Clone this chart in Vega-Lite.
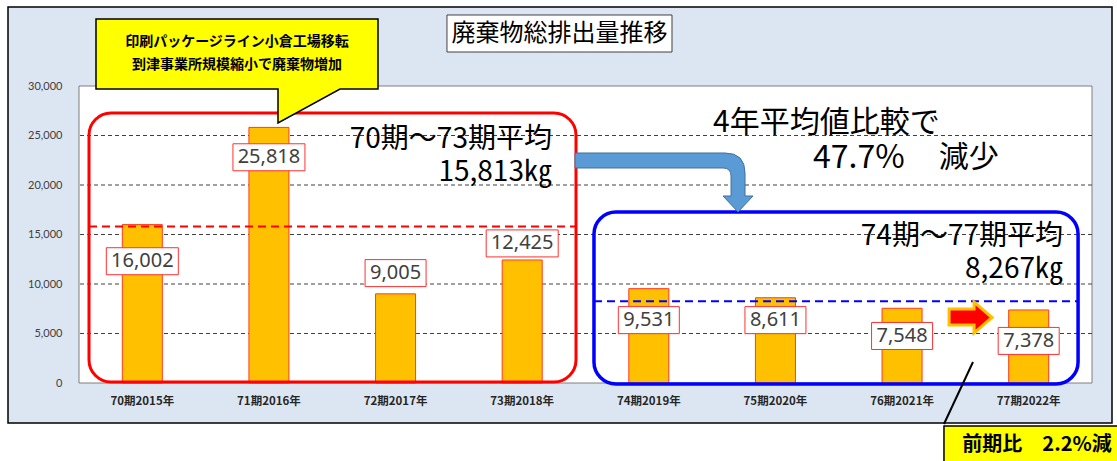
{
  "$schema": "https://vega.github.io/schema/vega-lite/v6.json",
  "width": 1013,
  "height": 297,
  "autosize": {"type": "none"},
  "padding": {"left": 79, "top": 86, "right": 25, "bottom": 78},
  "background": "white",
  "config": {"view": {"stroke": null}, "font": "Noto Sans CJK JP"},
  "data": {"values": [{}]},
  "resolve": {"scale": {"x": "independent", "y": "independent"}, "axis": {"x": "independent", "y": "independent"}},
  "layer": [
    {
      "layer": [
        {
          "mark": {"type": "rect", "fill": "#DCE6F2", "stroke": "#000000", "strokeWidth": 1.5},
          "encoding": {
            "x": {"datum": -0.5607, "type": "quantitative", "scale": {"domain": [0, 8], "nice": false, "zero": false}, "axis": null},
            "x2": {"datum": 8.158},
            "y": {"datum": 37980, "type": "quantitative", "scale": {"domain": [0, 30000], "nice": false, "zero": false}, "axis": null},
            "y2": {"datum": -4040}
          }
        },
        {
          "mark": {"type": "rect", "fill": "#FFFFFF", "stroke": "#7F7F7F", "strokeWidth": 1},
          "encoding": {
            "x": {"datum": 0, "type": "quantitative", "scale": {"domain": [0, 8], "nice": false, "zero": false}, "axis": null},
            "x2": {"datum": 8},
            "y": {"datum": 30000, "type": "quantitative", "scale": {"domain": [0, 30000], "nice": false, "zero": false}, "axis": null},
            "y2": {"datum": 0}
          }
        },
        {
          "data": {"values": [{"g": 5000}, {"g": 10000}, {"g": 15000}, {"g": 20000}, {"g": 25000}]},
          "mark": {"type": "rule", "stroke": "#404040", "strokeDash": [4, 3], "strokeWidth": 1},
          "encoding": {
            "y": {"field": "g", "type": "quantitative", "scale": {"domain": [0, 30000], "nice": false, "zero": false}, "axis": null}
          }
        }
      ]
    },
    {
      "data": {"values": [
        {"period": "70期2015年", "amount": 16002, "label_y": 12300},
        {"period": "71期2016年", "amount": 25818, "label_y": 22800},
        {"period": "72期2017年", "amount": 9005, "label_y": 11100},
        {"period": "73期2018年", "amount": 12425, "label_y": 14100},
        {"period": "74期2019年", "amount": 9531, "label_y": 6350},
        {"period": "75期2020年", "amount": 8611, "label_y": 6350},
        {"period": "76期2021年", "amount": 7548, "label_y": 4750},
        {"period": "77期2022年", "amount": 7378, "label_y": 4250}
      ]},
      "encoding": {
        "x": {
          "field": "period", "type": "nominal", "sort": null,
          "scale": {"paddingInner": 0.684, "paddingOuter": 0.342},
          "axis": {"title": null, "labelAngle": 0, "ticks": false, "domain": false, "labelPadding": 12, "labelFont": "Noto Sans CJK JP", "labelFontWeight": "bold", "labelFontSize": 11.5, "labelColor": "#262626", "zindex": 1}
        }
      },
      "layer": [
        {
          "mark": {"type": "bar", "color": "#FFC000", "stroke": "#FF3B1F", "strokeWidth": 1},
          "encoding": {
            "y": {
              "field": "amount", "type": "quantitative",
              "scale": {"domain": [0, 30000], "nice": false, "zero": false},
              "axis": {"title": null, "values": [0, 5000, 10000, 15000, 20000, 25000, 30000], "labelExpr": "format(datum.value, ',')", "grid": false, "ticks": false, "domain": false, "labelPadding": 17, "labelFont": "Lato", "labelFontSize": 11, "labelColor": "#404040", "zindex": 1}
            }
          }
        },
        {
          "transform": [{"filter": "datum.amount >= 10000"}],
          "mark": {"type": "point", "shape": "M-1,-0.375L1,-0.375L1,0.375L-1,0.375Z", "size": 5184, "filled": true, "fill": "#FFFFFF", "stroke": "#FF3030", "strokeWidth": 1, "opacity": 1},
          "encoding": {
            "y": {"field": "label_y", "type": "quantitative",
              "axis": {"title": null, "values": [0, 5000, 10000, 15000, 20000, 25000, 30000], "labelExpr": "format(datum.value, ',')", "grid": false, "ticks": false, "domain": false, "labelPadding": 17, "labelFont": "Lato", "labelFontSize": 11, "labelColor": "#404040", "zindex": 1}}
          }
        },
        {
          "transform": [{"filter": "datum.amount < 10000"}],
          "mark": {"type": "point", "shape": "M-1,-0.443L1,-0.443L1,0.443L-1,0.443Z", "size": 3721, "filled": true, "fill": "#FFFFFF", "stroke": "#FF3030", "strokeWidth": 1, "opacity": 1},
          "encoding": {
            "y": {"field": "label_y", "type": "quantitative",
              "axis": {"title": null, "values": [0, 5000, 10000, 15000, 20000, 25000, 30000], "labelExpr": "format(datum.value, ',')", "grid": false, "ticks": false, "domain": false, "labelPadding": 17, "labelFont": "Lato", "labelFontSize": 11, "labelColor": "#404040", "zindex": 1}}
          }
        },
        {
          "mark": {"type": "text", "font": "Noto Sans", "fontSize": 20, "color": "#404040", "baseline": "middle"},
          "encoding": {
            "y": {"field": "label_y", "type": "quantitative",
              "axis": {"title": null, "values": [0, 5000, 10000, 15000, 20000, 25000, 30000], "labelExpr": "format(datum.value, ',')", "grid": false, "ticks": false, "domain": false, "labelPadding": 17, "labelFont": "Lato", "labelFontSize": 11, "labelColor": "#404040", "zindex": 1}},
            "text": {"field": "amount", "type": "quantitative", "format": ","}
          }
        }
      ]
    },
    {
      "layer": [
        {
          "mark": {"type": "rect", "filled": false, "color": "#FF0000", "strokeWidth": 3, "cornerRadius": 22},
          "encoding": {
            "x": {"datum": 0.079, "type": "quantitative", "scale": {"domain": [0, 8], "nice": false, "zero": false}, "axis": null},
            "x2": {"datum": 3.925},
            "y": {"datum": 27273, "type": "quantitative", "scale": {"domain": [0, 30000], "nice": false, "zero": false}, "axis": null},
            "y2": {"datum": 101}
          }
        },
        {
          "mark": {"type": "rect", "filled": false, "color": "#0000FF", "strokeWidth": 3.5, "cornerRadius": 22},
          "encoding": {
            "x": {"datum": 4.067, "type": "quantitative", "scale": {"domain": [0, 8], "nice": false, "zero": false}, "axis": null},
            "x2": {"datum": 7.89},
            "y": {"datum": 17273, "type": "quantitative", "scale": {"domain": [0, 30000], "nice": false, "zero": false}, "axis": null},
            "y2": {"datum": -101}
          }
        },
        {
          "mark": {"type": "rule", "color": "#FF0000", "strokeWidth": 2, "strokeDash": [8, 5]},
          "encoding": {
            "x": {"datum": 0.079, "type": "quantitative", "scale": {"domain": [0, 8], "nice": false, "zero": false}, "axis": null},
            "x2": {"datum": 3.925},
            "y": {"datum": 15813, "type": "quantitative", "scale": {"domain": [0, 30000], "nice": false, "zero": false}, "axis": null}
          }
        },
        {
          "mark": {"type": "rule", "color": "#0000FF", "strokeWidth": 2, "strokeDash": [8, 5]},
          "encoding": {
            "x": {"datum": 4.067, "type": "quantitative", "scale": {"domain": [0, 8], "nice": false, "zero": false}, "axis": null},
            "x2": {"datum": 7.89},
            "y": {"datum": 8267, "type": "quantitative", "scale": {"domain": [0, 30000], "nice": false, "zero": false}, "axis": null}
          }
        },
        {
          "mark": {"type": "text", "align": "right", "baseline": "middle", "font": "Noto Sans CJK JP", "fontSize": 28, "color": "#000000", "text": "70期～73期平均"},
          "encoding": {
            "x": {"datum": 3.735, "type": "quantitative", "scale": {"domain": [0, 8], "nice": false, "zero": false}, "axis": null},
            "y": {"datum": 24545, "type": "quantitative", "scale": {"domain": [0, 30000], "nice": false, "zero": false}, "axis": null}
          }
        },
        {
          "mark": {"type": "text", "align": "right", "baseline": "middle", "font": "Noto Sans CJK JP", "fontSize": 28, "color": "#000000", "text": "15,813㎏"},
          "encoding": {
            "x": {"datum": 3.735, "type": "quantitative", "scale": {"domain": [0, 8], "nice": false, "zero": false}, "axis": null},
            "y": {"datum": 21212, "type": "quantitative", "scale": {"domain": [0, 30000], "nice": false, "zero": false}, "axis": null}
          }
        },
        {
          "mark": {"type": "text", "align": "right", "baseline": "middle", "font": "Noto Sans CJK JP", "fontSize": 28, "color": "#000000", "text": "74期～77期平均"},
          "encoding": {
            "x": {"datum": 7.771, "type": "quantitative", "scale": {"domain": [0, 8], "nice": false, "zero": false}, "axis": null},
            "y": {"datum": 14747, "type": "quantitative", "scale": {"domain": [0, 30000], "nice": false, "zero": false}, "axis": null}
          }
        },
        {
          "mark": {"type": "text", "align": "right", "baseline": "middle", "font": "Noto Sans CJK JP", "fontSize": 28, "color": "#000000", "text": "8,267㎏"},
          "encoding": {
            "x": {"datum": 7.771, "type": "quantitative", "scale": {"domain": [0, 8], "nice": false, "zero": false}, "axis": null},
            "y": {"datum": 11414, "type": "quantitative", "scale": {"domain": [0, 30000], "nice": false, "zero": false}, "axis": null}
          }
        },
        {
          "mark": {"type": "text", "align": "left", "baseline": "middle", "font": "Noto Sans CJK JP", "fontSize": 30, "color": "#000000", "text": "4年平均値比較で"},
          "encoding": {
            "x": {"datum": 5.007, "type": "quantitative", "scale": {"domain": [0, 8], "nice": false, "zero": false}, "axis": null},
            "y": {"datum": 26263, "type": "quantitative", "scale": {"domain": [0, 30000], "nice": false, "zero": false}, "axis": null}
          }
        },
        {
          "mark": {"type": "text", "align": "left", "baseline": "middle", "font": "Noto Sans CJK JP", "fontSize": 32, "color": "#000000", "text": "47.7%"},
          "encoding": {
            "x": {"datum": 5.797, "type": "quantitative", "scale": {"domain": [0, 8], "nice": false, "zero": false}, "axis": null},
            "y": {"datum": 22727, "type": "quantitative", "scale": {"domain": [0, 30000], "nice": false, "zero": false}, "axis": null}
          }
        },
        {
          "mark": {"type": "text", "align": "left", "baseline": "middle", "font": "Noto Sans CJK JP", "fontSize": 30, "color": "#000000", "text": "減少"},
          "encoding": {
            "x": {"datum": 6.79, "type": "quantitative", "scale": {"domain": [0, 8], "nice": false, "zero": false}, "axis": null},
            "y": {"datum": 22727, "type": "quantitative", "scale": {"domain": [0, 30000], "nice": false, "zero": false}, "axis": null}
          }
        },
        {
          "mark": {"type": "point", "shape": "M-1,-0.3278L0.6667,-0.3278Q0.8889,-0.3278,0.8889,-0.1056L0.8889,0.15L0.9778,0.15L0.8111,0.3278L0.6444,0.15L0.7333,0.15L0.7333,-0.0722Q0.7333,-0.1611,0.6444,-0.1611L-1,-0.1611Z", "size": 32400, "filled": true, "fill": "#5B9BD5", "stroke": "#41719C", "strokeWidth": 1, "opacity": 1},
          "encoding": {
            "x": {"datum": 4.628, "type": "quantitative", "scale": {"domain": [0, 8], "nice": false, "zero": false}, "axis": null},
            "y": {"datum": 20253, "type": "quantitative", "scale": {"domain": [0, 30000], "nice": false, "zero": false}, "axis": null}
          }
        },
        {
          "mark": {"type": "point", "shape": "M-0.9545,-0.386L0.1818,-0.386L0.1818,-0.7045L1,0L0.1818,0.7045L0.1818,0.341L-0.9545,0.341Z", "size": 1936, "filled": true, "fill": "#FF0000", "stroke": "#FFC000", "strokeWidth": 3, "opacity": 1},
          "encoding": {
            "x": {"datum": 7.037, "type": "quantitative", "scale": {"domain": [0, 8], "nice": false, "zero": false}, "axis": null},
            "y": {"datum": 6616, "type": "quantitative", "scale": {"domain": [0, 30000], "nice": false, "zero": false}, "axis": null}
          }
        },
        {
          "mark": {"type": "point", "shape": "M-1,-0.3688L1,-0.3688L1,0.1277L0.7305,0.1277L0.2908,0.3688L0.2908,0.1277L-1,0.1277Z", "size": 79524, "filled": true, "fill": "#FFFF00", "stroke": "#000000", "strokeWidth": 1.5, "opacity": 1},
          "encoding": {
            "x": {"datum": 1.2478, "type": "quantitative", "scale": {"domain": [0, 8], "nice": false, "zero": false}, "axis": null},
            "y": {"datum": 31515, "type": "quantitative", "scale": {"domain": [0, 30000], "nice": false, "zero": false}, "axis": null}
          }
        },
        {
          "mark": {"type": "text", "align": "center", "baseline": "middle", "font": "Noto Sans CJK JP", "fontSize": 14, "fontWeight": "bold", "color": "#000000", "text": "印刷パッケージライン小倉工場移転"},
          "encoding": {
            "x": {"datum": 1.2478, "type": "quantitative", "scale": {"domain": [0, 8], "nice": false, "zero": false}, "axis": null},
            "y": {"datum": 34444, "type": "quantitative", "scale": {"domain": [0, 30000], "nice": false, "zero": false}, "axis": null}
          }
        },
        {
          "mark": {"type": "text", "align": "center", "baseline": "middle", "font": "Noto Sans CJK JP", "fontSize": 14, "fontWeight": "bold", "color": "#000000", "text": "到津事業所規模縮小で廃棄物増加"},
          "encoding": {
            "x": {"datum": 1.2478, "type": "quantitative", "scale": {"domain": [0, 8], "nice": false, "zero": false}, "axis": null},
            "y": {"datum": 32121, "type": "quantitative", "scale": {"domain": [0, 30000], "nice": false, "zero": false}, "axis": null}
          }
        },
        {
          "mark": {"type": "rect", "fill": "#FFFFFF", "stroke": "#404040", "strokeWidth": 1},
          "encoding": {
            "x": {"datum": 2.906, "type": "quantitative", "scale": {"domain": [0, 8], "nice": false, "zero": false}, "axis": null},
            "x2": {"datum": 4.683},
            "y": {"datum": 37172, "type": "quantitative", "scale": {"domain": [0, 30000], "nice": false, "zero": false}, "axis": null},
            "y2": {"datum": 33434}
          }
        },
        {
          "mark": {"type": "text", "align": "center", "baseline": "middle", "font": "Noto Sans CJK JP", "fontSize": 24, "color": "#000000", "text": "廃棄物総排出量推移"},
          "encoding": {
            "x": {"datum": 3.795, "type": "quantitative", "scale": {"domain": [0, 8], "nice": false, "zero": false}, "axis": null},
            "y": {"datum": 35303, "type": "quantitative", "scale": {"domain": [0, 30000], "nice": false, "zero": false}, "axis": null}
          }
        },
        {
          "mark": {"type": "rule", "color": "#000000", "strokeWidth": 2},
          "encoding": {
            "x": {"datum": 6.831, "type": "quantitative", "scale": {"domain": [0, 8], "nice": false, "zero": false}, "axis": null},
            "x2": {"datum": 7.06},
            "y": {"datum": -4141, "type": "quantitative", "scale": {"domain": [0, 30000], "nice": false, "zero": false}, "axis": null},
            "y2": {"datum": 2121}
          }
        },
        {
          "mark": {"type": "rect", "fill": "#FFFF00", "stroke": "#000000", "strokeWidth": 1.5},
          "encoding": {
            "x": {"datum": 6.831, "type": "quantitative", "scale": {"domain": [0, 8], "nice": false, "zero": false}, "axis": null},
            "x2": {"datum": 8.261},
            "y": {"datum": -4343, "type": "quantitative", "scale": {"domain": [0, 30000], "nice": false, "zero": false}, "axis": null},
            "y2": {"datum": -8788}
          }
        },
        {
          "mark": {"type": "text", "align": "center", "baseline": "middle", "font": "Noto Sans CJK JP", "fontSize": 20, "fontWeight": "bold", "color": "#000000", "text": "前期比　2.2%減"},
          "encoding": {
            "x": {"datum": 7.566, "type": "quantitative", "scale": {"domain": [0, 8], "nice": false, "zero": false}, "axis": null},
            "y": {"datum": -6263, "type": "quantitative", "scale": {"domain": [0, 30000], "nice": false, "zero": false}, "axis": null}
          }
        }
      ]
    }
  ]
}
